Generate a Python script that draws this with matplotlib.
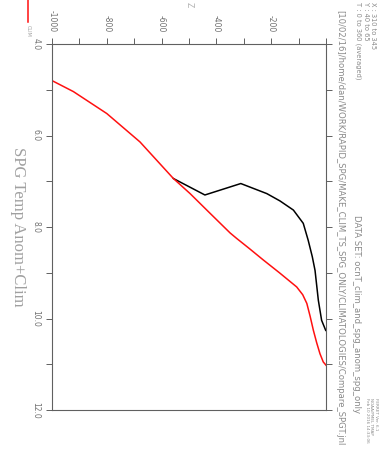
import matplotlib
matplotlib.use('Agg')
import matplotlib.pyplot as plt
from matplotlib.ticker import MultipleLocator, FixedLocator, FormatStrFormatter

# ================= Data =================
# climatology profile (red)
depth_clim = [-1000, -922, -800, -679, -557, -496, -430, -350, -326, -280, -229,
              -170, -107, -85, -70, -58, -46, -34, -22, -10, 0]
temp_clim = [4.80, 5.04, 5.52, 6.14, 6.94, 7.27, 7.66, 8.13, 8.25, 8.47, 8.72,
             9.00, 9.31, 9.48, 9.67, 9.95, 10.26, 10.53, 10.77, 10.95, 11.02]

# anomaly + climatology profile (black), splits off the red curve near -557
depth_anom = [-557, -442, -311, -216, -168, -119,
              -83, -65, -50, -40, -28, -16, -1]
temp_anom = [6.94, 7.30, 7.05, 7.27, 7.43, 7.63,
             7.92, 8.29, 8.65, 8.95, 9.60, 10.04, 10.26]

z_ticks = [-1000, -800, -600, -400, -200]
t_ticks = [4.0, 6.0, 8.0, 10.0, 12.0]

title = 'SPG Temp Anom+Clim'
header = ['X : 310 to 345', 'Y : 40 to 65', 'T : 0 to 360 (averaged)']
jnl = '[10/02/16]/home/dan/WORK/RAPID_SPG/MAKE_CLIM_TS_SPG_ONLY/CLIMATOLOGIES/Compare_SPGT.jnl'
dataset = 'DATA SET: ocnT_clim_and_spg_anom_spg_only'
stamp = ['FERRET Ver. 6.1', 'NOAA/PMEL TMAP', 'Feb 10 2016 14:33:06']
# ===============================================================

W, H = 384, 449
TXT = '#8a8a8a'
AXC = '#606060'

plt.rcParams['axes.unicode_minus'] = False
plt.rcParams['font.family'] = ['DejaVu Sans']

fig = plt.figure(figsize=(W / 100, H / 100), dpi=100)


def px(x, y):
    # pixel position -> figure fraction
    return x / W, 1 - y / H


# the whole Ferret page is turned a quarter turn: depth runs left->right, temp top->bottom
x0, y0 = px(52, 410)
x1, y1 = px(326, 44)
ax = fig.add_axes([x0, y0, x1 - x0, y1 - y0])

ax.plot(depth_anom, temp_anom, color='black', linewidth=1.1)
ax.plot(depth_clim, temp_clim, color='#ff1010', linewidth=1.1)

ax.set_xlim(-1000, 0)
ax.set_ylim(12, 4)

ax.xaxis.set_major_locator(FixedLocator(z_ticks))
ax.xaxis.set_minor_locator(MultipleLocator(100))
ax.yaxis.set_major_locator(FixedLocator(t_ticks))
ax.yaxis.set_minor_locator(MultipleLocator(1))
ax.yaxis.set_major_formatter(FormatStrFormatter('%.1f'))

ax.tick_params(which='both', direction='out', length=4.5, width=0.7, color=AXC,
               top=True, bottom=False, left=True, right=True,
               labeltop=True, labelbottom=False, labelleft=True, labelright=False)
ax.tick_params(axis='x', labelsize=5.5, labelcolor='#707070', pad=4, labelrotation=-90)
ax.tick_params(axis='y', labelsize=5.5, labelcolor='#707070', pad=4, labelrotation=-90)
for lab in ax.get_yticklabels():
    lab.set_verticalalignment('center')

for s in ax.spines.values():
    s.set_color(AXC)
    s.set_linewidth(0.8)

# axis label "Z"
fig.text(*px(189, 5), 'Z', rotation=-90, ha='center', va='center',
         fontsize=5.5, color='#b0b0b0')

# title along the left edge
fig.text(*px(18, 227), title, rotation=-90, ha='center', va='center',
         fontsize=12, color='#a0a0a0', family='Liberation Serif')

# legend key
lx, ly0 = px(28, 0)
_, ly1 = px(28, 22)
fig.add_artist(plt.Line2D([lx, lx], [ly0, ly1], color='#ff1010', linewidth=1.1,
                          transform=fig.transFigure))
fig.text(*px(28, 31), 'CLIM', rotation=-90, ha='center', va='center',
         fontsize=3.5, color='#a0a0a0')

# header block on the right
for i, line in enumerate(header):
    fig.text(*px(373 - 7.5 * i, 2), line, rotation=-90, ha='center', va='top',
             fontsize=4.8, color=TXT)
fig.text(*px(340, 10), jnl, rotation=-90, ha='center', va='top',
         fontsize=6.1, color=TXT)
fig.text(*px(356, 215), dataset, rotation=-90, ha='center', va='top',
         fontsize=6.1, color=TXT)
for i, line in enumerate(stamp):
    fig.text(*px(376 - 4.5 * i, 398), line, rotation=-90, ha='center', va='top',
             fontsize=3, color=TXT)

fig.savefig('out.png', dpi=100)
